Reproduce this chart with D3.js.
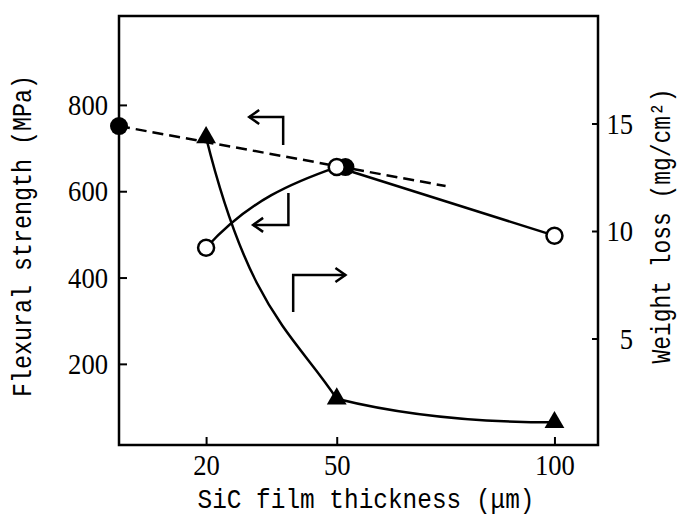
<!DOCTYPE html>
<html>
<head>
<meta charset="utf-8">
<style>
    body { margin: 0; background: #fff; }
    svg { display: block; }
    .tick text { font-family: 'Liberation Serif', serif; font-size: 30px; fill: #000; }
    .title { font-family: 'Liberation Mono', monospace; font-size: 27px; fill: #000; }
</style>
</head>
<body>
<svg width="679" height="518"></svg>

<script src="https://d3js.org/d3.v7.min.js"></script>
<script>
    //------------------------ DATA ------------------------//
    // SiC film thickness (um)
    const thickness = [20, 50, 100];
    // flexural strength of coated samples (MPa), open circles
    const strength = [469, 656, 497];
    // weight loss (mg/cm2), triangles
    const weightLoss = [14.35, 2.2, 1.1];
    // reference (filled circles) and dashed trend
    const refThickness = [0, 52];
    const refStrength = [751, 656];
    const trendThickness = [0, 75];
    const trendStrength = [751, 612];
    // ticks
    const xTicks = [20, 50, 100];
    const leftTicks = [200, 400, 600, 800];
    const rightTicks = [5, 10, 15];
    // bracket arrows in data units [thickness, MPa]: start, corner, tip
    const arrows = [
        [[37.7, 707], [37.7, 772], [29.9, 772]],
        [[38.9, 596], [38.9, 522], [30.8, 522]],
        [[40, 320], [40, 406], [52, 406]]
    ];

    //------------------------ SETUP ------------------------//
    const svg = d3.select("svg");
    const box = {left: 119, right: 598, top: 16, bottom: 445};

    const x = d3.scaleLinear().domain([0, 110]).range([box.left, box.right]);
    const yL = d3.scaleLinear().domain([12, 1006]).range([box.bottom, box.top]);
    const yR = d3.scaleLinear().domain([0, 20]).range([446, 16]);

    // frame
    svg.append("rect")
        .attr("x", box.left).attr("y", box.top)
        .attr("width", box.right - box.left).attr("height", box.bottom - box.top)
        .style("fill", "none").style("stroke", "#000").style("stroke-width", 2.5);

    // axes (ticks inward)
    const gx = svg.append("g").attr("transform", `translate(0,${box.bottom})`)
        .call(d3.axisBottom(x).tickValues(xTicks).tickSize(-8).tickPadding(9));
    const gl = svg.append("g").attr("transform", `translate(${box.left},0)`)
        .call(d3.axisLeft(yL).tickValues(leftTicks).tickSize(-8).tickPadding(11));
    const gr = svg.append("g").attr("transform", `translate(${box.right},0)`)
        .call(d3.axisRight(yR).tickValues(rightTicks).tickSize(-6).tickPadding(35));
    gr.selectAll("text").attr("text-anchor", "end");
    [gx, gl, gr].forEach(g => {
        g.select(".domain").remove();
        g.selectAll("line").style("stroke", "#000").style("stroke-width", 2);
        // narrow digits like the original typeface
        g.selectAll("text").each(function() {
            const n = this.textContent.length;
            d3.select(this).attr("textLength", n * 13.3).attr("lengthAdjust", "spacingAndGlyphs");
        });
    });

    // axis titles
    svg.append("text").attr("class", "title")
        .attr("transform", "translate(24,236) rotate(-90)")
        .attr("text-anchor", "middle").attr("dominant-baseline", "central")
        .attr("textLength", 322).attr("lengthAdjust", "spacingAndGlyphs")
        .text("Flexural strength (MPa)");
    svg.append("text").attr("class", "title")
        .attr("transform", "translate(663,226) rotate(-90)")
        .attr("text-anchor", "middle").attr("dominant-baseline", "central")
        .attr("textLength", 275).attr("lengthAdjust", "spacingAndGlyphs")
        .text("Weight loss (mg/cm²)");
    svg.append("text").attr("class", "title")
        .attr("x", 366).attr("y", 508)
        .attr("text-anchor", "middle")
        .attr("textLength", 337).attr("lengthAdjust", "spacingAndGlyphs")
        .text("SiC film thickness (μm)");

    //------------------------ CURVES ------------------------//
    // cubic segment between two pixel points with given end slopes (dy/dx)
    function segment(p0, p1, m0, m1) {
        const dx = (p1[0] - p0[0]) / 3;
        const p = d3.path();
        p.moveTo(p0[0], p0[1]);
        p.bezierCurveTo(p0[0] + dx, p0[1] + m0 * dx, p1[0] - dx, p1[1] - m1 * dx, p1[0], p1[1]);
        return p.toString();
    }
    const line = d3.line();

    // dashed trend
    svg.append("path")
        .attr("d", line(trendThickness.map((t, i) => [x(t), yL(trendStrength[i])])))
        .style("fill", "none").style("stroke", "#000").style("stroke-width", 2.5)
        .style("stroke-dasharray", "11,6");

    const ptsS = thickness.map((t, i) => [x(t), yL(strength[i])]);
    const ptsW = thickness.map((t, i) => [x(t), yR(weightLoss[i])]);

    const curves = [
        segment(ptsS[0], ptsS[1], -1.1, -0.35),
        line([ptsS[1], ptsS[2]]),
        segment(ptsW[0], ptsW[1], 4, 1.5),
        segment(ptsW[1], ptsW[2], 0.25, 0)
    ];
    svg.selectAll(".curve").data(curves).join("path")
        .attr("class", "curve")
        .attr("d", d => d)
        .style("fill", "none").style("stroke", "#000").style("stroke-width", 2.5);

    // bracket arrows
    arrows.forEach(a => {
        const p = a.map(d => [x(d[0]), yL(d[1])]);
        svg.append("path").attr("d", line(p))
            .style("fill", "none").style("stroke", "#000").style("stroke-width", 2.5);
        const dir = Math.sign(p[2][0] - p[1][0]);
        const tip = p[2];
        svg.append("path")
            .attr("d", line([[tip[0] - dir * 10, tip[1] - 7], tip, [tip[0] - dir * 10, tip[1] + 7]]))
            .style("fill", "none").style("stroke", "#000").style("stroke-width", 2.5);
    });

    //------------------------ MARKERS ------------------------//
    svg.selectAll(".ref").data(refThickness).join("circle")
        .attr("class", "ref")
        .attr("cx", d => x(d)).attr("cy", (d, i) => yL(refStrength[i]))
        .attr("r", 9).style("fill", "#000");

    svg.selectAll(".open").data(thickness).join("circle")
        .attr("class", "open")
        .attr("cx", d => x(d)).attr("cy", (d, i) => yL(strength[i]))
        .attr("r", 8).style("fill", "#fff").style("stroke", "#000").style("stroke-width", 2.5);

    svg.selectAll(".tri").data(thickness).join("path")
        .attr("class", "tri")
        .attr("transform", (d, i) => `translate(${x(d)},${yR(weightLoss[i])})`)
        .attr("d", d3.symbol(d3.symbolTriangle, 170))
        .style("fill", "#000");
</script>
</body>
</html>
